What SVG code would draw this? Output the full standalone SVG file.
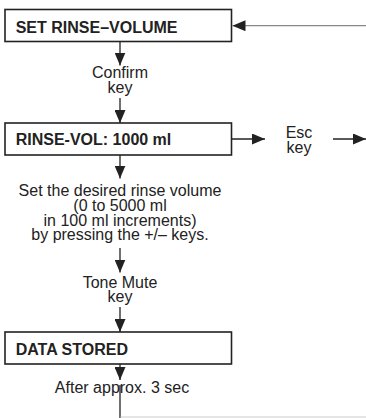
<svg xmlns="http://www.w3.org/2000/svg" width="366" height="418" viewBox="0 0 366 418">
<style>
.box{fill:#fff;stroke:#222;stroke-width:1.6}
.bt{font-family:"Liberation Sans",Arial,sans-serif;font-weight:bold;font-size:16px;fill:#222}
.t{font-family:"Liberation Sans",Arial,sans-serif;font-size:16px;fill:#222;text-anchor:middle}
.c{fill:none;stroke:#222;stroke-width:1.3}
.g{fill:none;stroke:#888;stroke-width:1.3}
.lg{fill:none;stroke:#ccc;stroke-width:1}
</style>
<defs>
<marker id="ah" markerUnits="userSpaceOnUse" markerWidth="13" markerHeight="11" refX="13" refY="5.5" orient="auto">
<path d="M0,0 L13,5.5 L0,11 Z" fill="#222"/>
</marker>
</defs>
<rect width="366" height="418" fill="#fff"/>
<g id="connectors">
<path class="g" d="M366,25.7 L232.5,25.7" marker-end="url(#ah)"/>
<path class="c" d="M120,41.5 L120,65.5" marker-end="url(#ah)"/>
<path class="c" d="M120,98 L120,123" marker-end="url(#ah)"/>
<path class="c" d="M231.5,139 L265,139" marker-end="url(#ah)"/>
<path class="c" d="M333,139 L366,139" marker-end="url(#ah)"/>
<path class="c" d="M120,155 L120,178.5" marker-end="url(#ah)"/>
<path class="c" d="M120,248 L120,272.5" marker-end="url(#ah)"/>
<path class="c" d="M120,307 L120,332" marker-end="url(#ah)"/>
<path class="c" d="M120,364 L120,380" marker-end="url(#ah)"/>
<path class="c" d="M120,385 L120,418"/>
<path class="lg" d="M120.5,417 L366,417"/>
</g>
<g id="set-rinse-volume">
<rect class="box" x="5" y="9.5" width="226.5" height="32"/>
<text class="bt" x="15.7" y="32.7">SET RINSE–VOLUME</text>
</g>
<g id="confirm-key">
<text class="t" x="120" y="78.3">Confirm<tspan x="120" y="93.3">key</tspan></text>
</g>
<g id="rinse-vol">
<rect class="box" x="5" y="123" width="226.5" height="32"/>
<text class="bt" x="15.7" y="145">RINSE-VOL: 1000 ml</text>
</g>
<g id="esc-key">
<text class="t" x="299" y="137.7">Esc<tspan x="299" y="152.5">key</tspan></text>
</g>
<g id="set-desired">
<text class="t" x="120" y="196">Set the desired rinse volume<tspan x="120" y="210.7">(0 to 5000 ml</tspan><tspan x="120" y="225.5">in 100 ml increments)</tspan><tspan x="120" y="239.5">by pressing the +/– keys.</tspan></text>
</g>
<g id="tone-mute-key">
<text class="t" x="120" y="288.3">Tone Mute<tspan x="120" y="302">key</tspan></text>
</g>
<g id="data-stored">
<rect class="box" x="5" y="332" width="226.5" height="32"/>
<text class="bt" x="15.7" y="355">DATA STORED</text>
</g>
<g id="after-3-sec">
<text class="t" x="122" y="392.7">After approx. 3 sec</text>
</g>
</svg>
